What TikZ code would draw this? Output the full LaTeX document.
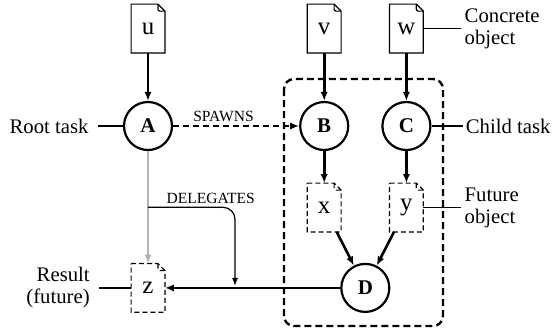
\documentclass[tikz,border=0pt]{standalone}
\usepackage{fontspec}
\setmainfont{Liberation Serif}
\usetikzlibrary{arrows.meta,positioning,calc}

\begin{document}
\begin{tikzpicture}[
    x=0.5bp, y=-0.5bp,
    task/.style={circle, draw=black, line width=1.1bp, minimum size=24bp, inner sep=0pt, font=\fontsize{10.5}{12}\selectfont\bfseries},
    doc/.style={rectangle, minimum width=16.5bp, minimum height=24bp, inner sep=0pt, font=\fontsize{12.5}{14}\selectfont},
    note/.style={inner xsep=1.5bp, inner ysep=1bp, align=left, font=\fontsize{10.4}{11}\selectfont},
    tag/.style={font=\fontsize{7.8}{9}\selectfont, inner sep=1.5bp},
    arrow/.style={line width=1.3bp, -{Latex[length=4.5bp,width=3.6bp]}},
    spawn/.style={arrow, dash pattern=on 3bp off 2bp},
    delegate/.style={line width=1.2bp, draw=black!30, -{Latex[length=4.5bp,width=3.6bp, fill=black!30]}},
    link/.style={line width=0.6bp, -{Latex[length=4bp,width=3bp]}, rounded corners=6bp},
    leader/.style={line width=0.6bp},
    group/.style={line width=1.2bp, dash pattern=on 3.5bp off 2bp, rounded corners=5bp},
    docline/.style={line width=0.6bp},
    futline/.style={docline, dash pattern=on 2.5bp off 1.5bp}
]
\useasboundingbox (0,0) rectangle (555,332);

% Tasks
\node[task] (A) at (148,126) {A};
\node[task, right=63bp of A] (B) {B};
\node[task, right=16bp of B] (C) {C};

% Concrete objects
\node[doc, above=24bp of A] (u) {u};
\node[doc, above=24bp of B] (v) {v};
\node[doc, above=24bp of C] (w) {w};

% Future objects
\node[doc, below=16bp of B] (x) {x};
\node[doc, below=16bp of C] (y) {y};
\node[task] (D) at ($(x.south)!0.5!(y.south)+(0,56)$) {D};
\node[doc] (z) at (A |- D) {z};

% Document outlines
\foreach \d/\s in {u/docline, v/docline, w/docline, x/futline, y/futline, z/futline} {
  \draw[\s] (\d.north west) -- ([xshift=-3.5bp]\d.north east) -- ([yshift=-3.5bp]\d.north east) -- (\d.south east) -- (\d.south west) -- cycle;
  \draw[\s, rounded corners=1bp] ([xshift=-3.5bp]\d.north east) |- ([yshift=-3.5bp]\d.north east);
}

% Child group
\draw[group] (284,79) rectangle (443,326);

% Labels
\node[note, align=right, inner xsep=4.5bp, left=12.5bp of A] (root) {Root task};
\node[note, align=right, inner xsep=4.5bp, left=16bp of z] (res) {Result\\(future)};
\node[note, right=19bp of w] (cobj) {Concrete\\object};
\node[note, right=15.5bp of C] (child) {Child task};
\node[note, right=19bp of y] (fobj) {Future\\object};

% Arrows
\draw[arrow] (u) -- (A);
\draw[arrow] (v) -- (B);
\draw[arrow] (w) -- (C);
\draw[arrow] (B) -- (x);
\draw[arrow] (C) -- (y);
\draw[arrow] (x) -- (D);
\draw[arrow] (y) -- (D);
\draw[arrow] (D) -- (z);
\draw[spawn] (A) -- node[tag, above, pos=0.4] {SPAWNS} (B);
\draw[delegate] (A) -- (z);
\coordinate (dstart) at ($(A.south)!0.5!(z.north)$);
\coordinate (dend) at ($(z.east)!0.4!(D.west)$);
\draw[link] (dstart) -| node[tag, above, pos=0.36] {DELEGATES} ([yshift=1bp]dend);

% Leaders
\draw[leader] (root) -- (A);
\draw[leader] (res) -- (z);
\draw[leader] (w.east) -- (w.east -| cobj.west);
\draw[leader] (C.east) -- (C.east -| child.west);
\draw[leader] (y.east) -- (y.east -| fobj.west);
\end{tikzpicture}
\end{document}
